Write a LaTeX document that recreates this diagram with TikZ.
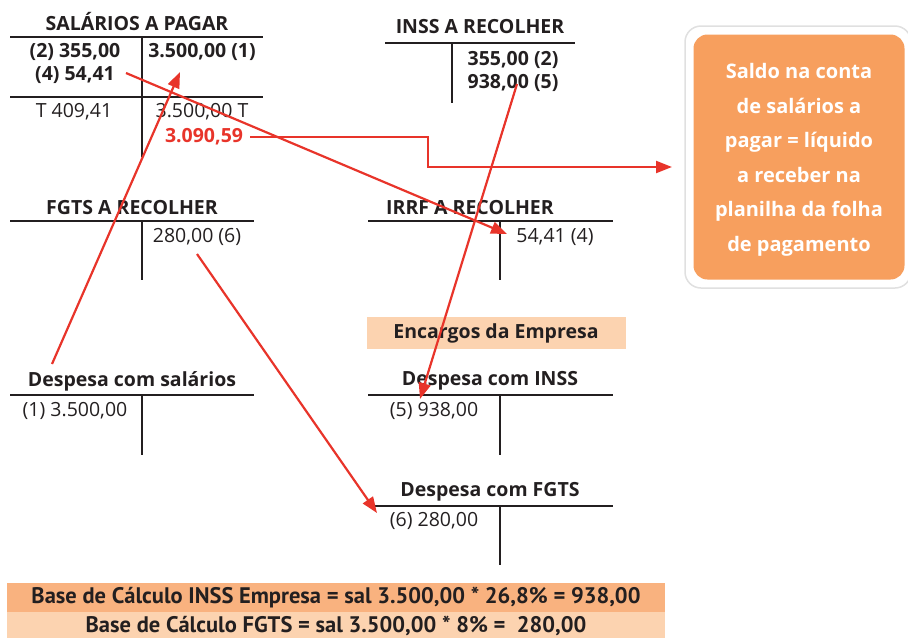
\documentclass[tikz,border=0pt]{standalone}
\usepackage{fontspec}
\setmainfont{Open Sans}
\newfontfamily\barfont{PT Sans}
\usetikzlibrary{arrows.meta}
\definecolor{tText}{HTML}{231F20}
\definecolor{tRed}{HTML}{E8342A}
\definecolor{tOrange}{HTML}{F79F5E}
\definecolor{tPeach}{HTML}{F9B27F}
\definecolor{tLight}{HTML}{FCD3B0}
\tikzset{
    acct/.style={text=tText, inner sep=0pt, font=\bfseries\fontsize{19.5}{21}\selectfont},
    val/.style={text=tText, inner sep=0pt, font=\fontsize{19.5}{21}\selectfont},
    bval/.style={val, font=\bfseries\fontsize{19.5}{21}\selectfont},
    tline/.style={line width=1.4pt, tText},
    red arrow/.style={line width=2.2pt, tRed, -{Triangle[length=16pt,width=12pt]}},
    calc bar/.style={inner sep=0pt, text=tText, font=\barfont\bfseries\fontsize{22.5}{24}\selectfont}
}

\begin{document}
\begin{tikzpicture}[x=1pt,y=-1pt]
\useasboundingbox (0,0) rectangle (908,638);
% salarios a pagar
\node[acct] (sp) at (137,22) {SALÁRIOS A PAGAR};
\draw[tline] (10,37)--(263,37);
\draw[tline] (10,97)--(263,97);
\draw[tline] (142,37)--(142,157);
\node[bval] (sp-d2) at (75,52) {(2) 355,00};
\node[bval] (sp-d4) at (75,75) {(4) 54,41};
\node[bval] (sp-c1) at (202,52) {3.500,00 (1)};
\node[val] (sp-td) at (74,112) {T 409,41};
\node[val] (sp-tc) at (202,112) {3.500,00 T};
\node[val, font=\bfseries\fontsize{19.5}{21}\selectfont, text=tRed] (saldo) at (204,137) {3.090,59};
% inss a recolher
\node[acct] (ir) at (480,27) {INSS A RECOLHER};
\draw[tline] (385,43)--(575,43);
\draw[tline] (452,43)--(452,103);
\node[bval] (ir-c2) at (513,60) {355,00 (2)};
\node[bval] (ir-c5) at (513,83) {938,00 (5)};
% callout
\node[draw=black!12, line width=1.5pt, fill=white, rounded corners=16pt,
      minimum width=226pt, minimum height=262pt] (box) at (798,157) {};
\node[fill=tOrange, rounded corners=14pt, minimum width=211pt, minimum height=245pt,
      text=white, align=center, font=\bfseries\fontsize{20}{34.5}\selectfont] (nota) at (799,157)
      {};
\node[text=white, align=center, font=\bfseries\fontsize{20}{34.5}\selectfont] (nota-t) at (799,160)
      {Saldo na conta\\de salários a\\pagar = líquido\\a receber na\\planilha da folha\\de pagamento};
% fgts a recolher
\node[acct] (fr) at (132,208) {FGTS A RECOLHER};
\draw[tline] (10,221)--(254,221);
\draw[tline] (142,221)--(142,280);
\node[val] (fr-c6) at (197,237) {280,00 (6)};
% irrf a recolher
\node[acct] (rr) at (470,208) {IRRF A RECOLHER};
\draw[tline] (368,221)--(613,221);
\draw[tline] (500,221)--(500,280);
\node[val] (rr-c4) at (555,237) {54,41 (4)};
% encargos
\node[fill=tLight, minimum width=259pt, minimum height=32pt, inner sep=0pt] (enc) at (496,333) {};
\node[acct] (enc-t) at (496,333) {Encargos da Empresa};
% despesa com salarios
\node[acct] (ds) at (132,381) {Despesa com salários};
\draw[tline] (10,395)--(254,395);
\draw[tline] (142,395)--(142,455);
\node[val] (ds-d1) at (75,411) {(1) 3.500,00};
% despesa com inss
\node[acct] (di) at (490,381) {Despesa com INSS};
\draw[tline] (368,395)--(613,395);
\draw[tline] (500,395)--(500,455);
\node[val] (di-d5) at (434,411) {(5) 938,00};
% despesa com fgts
\node[acct] (df) at (490,492) {Despesa com FGTS};
\draw[tline] (375,506)--(613,506);
\draw[tline] (500,506)--(500,565);
\node[val] (df-d6) at (434,521) {(6) 280,00};
% bases de calculo
\node[fill=tPeach, minimum width=658pt, minimum height=29pt, inner sep=0pt] (b1) at (336,597.5) {};
\node[fill=tLight, minimum width=658pt, minimum height=26pt, inner sep=0pt] (b2) at (336,625) {};
\node[calc bar] (b1-t) at (336,598) {Base de Cálculo INSS Empresa = sal 3.500,00 * 26,8\% = 938,00};
\node[calc bar] (b2-t) at (336,626) {Base de Cálculo FGTS = sal 3.500,00 * 8\% =\ \ 280,00};
% setas
\coordinate (a1) at (52,364);
\coordinate (a1t) at (180,72);
\coordinate (a2) at (126,73);
\coordinate (a2t) at (507,234);
\coordinate (a3) at (517,84);
\coordinate (a3t) at (420,399);
\coordinate (a4) at (197,254);
\coordinate (a4t) at (377,513);
\coordinate (a5) at (250,137);
\coordinate (a5t) at (672,167);
\draw[red arrow] (a1)--(a1t);
\draw[red arrow] (a2)--(a2t);
\draw[red arrow] (a3)--(a3t);
\draw[red arrow] (a4)--(a4t);
\draw[red arrow] (a5)-|(428,152)|-(a5t);
\end{tikzpicture}
\end{document}
